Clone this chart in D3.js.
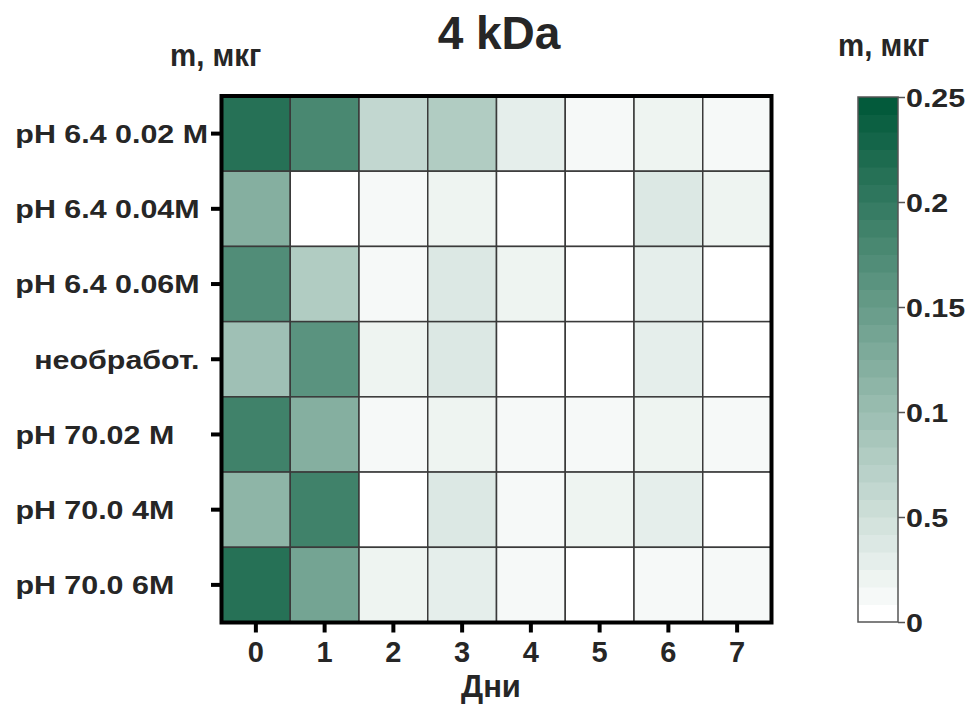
<!DOCTYPE html>
<html>
<head>
<meta charset="utf-8">
<script src="https://cdn.jsdelivr.net/npm/d3@7"></script>
<style>
  body { margin: 0; background: #fff; }
  text { font-family: "Liberation Sans", Arial, sans-serif; font-weight: bold; fill: #262626; }
</style>
</head>
<body>
<svg id="chart" width="972" height="704"></svg>
<script>
// Days on the x axis
const days = [0, 1, 2, 3, 4, 5, 6, 7];

// Row labels (trailing spaces are part of the original labels)
const samples = [
  'pH 6.4 0.02 M',
  'pH 6.4 0.04M\u00a0',
  'pH 6.4 0.06M\u00a0',
  'необработ.\u00a0',
  'pH 70.02 M\u00a0\u00a0\u00a0\u00a0',
  'pH 70.0 4M\u00a0\u00a0\u00a0\u00a0',
  'pH 70.0 6M\u00a0\u00a0\u00a0\u00a0'
];

// m, мкг per row, one value per day
const values = [
  [0.210, 0.180, 0.059, 0.075, 0.026, 0.010, 0.018, 0.010],
  [0.118, 0.000, 0.010, 0.018, 0.000, 0.000, 0.034, 0.018],
  [0.170, 0.075, 0.010, 0.034, 0.018, 0.000, 0.026, 0.000],
  [0.093, 0.165, 0.018, 0.034, 0.000, 0.000, 0.026, 0.000],
  [0.190, 0.118, 0.010, 0.018, 0.010, 0.010, 0.018, 0.010],
  [0.110, 0.190, 0.000, 0.034, 0.010, 0.018, 0.026, 0.000],
  [0.215, 0.140, 0.018, 0.026, 0.010, 0.000, 0.010, 0.010]
];

// Colour bar ticks (label "0.5" is as printed in the source figure)
const legendTicks  = [0, 0.05, 0.1, 0.15, 0.2, 0.25];
const legendLabels = ['0', '0.5', '0.1', '0.15', '0.2', '0.25'];

const VMAX    = 0.25;
const STEPS   = 30;     // discrete colour steps in the bar
const STRETCH = 1.17;   // wide tick lettering

const PLOT = { left: 221.5, right: 771.5, top: 96, bottom: 622.5 };
const BAR  = { left: 858, right: 898, top: 97, bottom: 622 };

const svg = d3.select('#chart');

const colorOf = d3.scaleQuantize()
  .domain([0, VMAX])
  .range(d3.range(STEPS).map(i => d3.interpolateRgb('#ffffff', '#035a3b')(i / (STEPS - 1))));

const x = d3.scaleBand().domain(days).range([PLOT.left, PLOT.right]);
const y = d3.scaleBand().domain(samples).range([PLOT.top, PLOT.bottom]);

// Cells
const cells = [];
samples.forEach((s, r) => days.forEach((d, c) => cells.push({ s, d, v: values[r][c] })));

svg.append('g')
  .selectAll('rect')
  .data(cells)
  .join('rect')
  .attr('x', d => x(d.d))
  .attr('y', d => y(d.s))
  .attr('width', x.bandwidth())
  .attr('height', y.bandwidth())
  .attr('fill', d => colorOf(Math.min(d.v, VMAX - 1e-9)))
  .attr('stroke', '#3a3a3a')
  .attr('stroke-width', 1.5);

// Frame
svg.append('rect')
  .attr('x', PLOT.left).attr('y', PLOT.top)
  .attr('width', PLOT.right - PLOT.left)
  .attr('height', PLOT.bottom - PLOT.top)
  .attr('fill', 'none')
  .attr('stroke', '#000')
  .attr('stroke-width', 4);

// Y axis
const yAxis = svg.append('g')
  .attr('transform', `translate(${PLOT.left - 0.5},0)`)
  .call(d3.axisLeft(y).tickSize(10).tickSizeOuter(0));
yAxis.select('.domain').remove();
yAxis.selectAll('.tick line').attr('stroke', '#000').attr('stroke-width', 4);
yAxis.selectAll('.tick text')
  .style('white-space', 'pre')
  .attr('font-size', 26)
  .attr('fill', '#262626')
  .attr('x', -13 / STRETCH)
  .attr('dy', '0.36em')
  .attr('transform', `scale(${STRETCH},1)`);

// X axis
const xAxis = svg.append('g')
  .attr('transform', `translate(0,${PLOT.bottom})`)
  .call(d3.axisBottom(x).tickSize(10).tickPadding(9).tickSizeOuter(0));
xAxis.select('.domain').remove();
xAxis.selectAll('.tick line').attr('stroke', '#000').attr('stroke-width', 4);
xAxis.selectAll('.tick text')
  .attr('font-size', 29)
  .attr('fill', '#262626');

svg.append('text')
  .attr('x', 491).attr('y', 697)
  .attr('text-anchor', 'middle')
  .attr('font-size', 31)
  .text('Дни');

// Title and unit labels
svg.append('text')
  .attr('x', 499).attr('y', 49)
  .attr('text-anchor', 'middle')
  .attr('font-size', 46)
  .text('4 kDa');

svg.append('text')
  .attr('transform', 'translate(170,66) scale(0.95,1)')
  .attr('font-size', 31)
  .text('m, мкг');

svg.append('text')
  .attr('transform', 'translate(838,56) scale(0.95,1)')
  .attr('font-size', 31)
  .text('m, мкг');

// Colour bar
const cy = d3.scaleLinear().domain([0, VMAX]).range([BAR.bottom, BAR.top]);
const step = VMAX / STEPS;

svg.append('g')
  .selectAll('rect')
  .data(d3.range(STEPS))
  .join('rect')
  .attr('x', BAR.left)
  .attr('y', i => cy((i + 1) * step))
  .attr('width', BAR.right - BAR.left)
  .attr('height', i => cy(i * step) - cy((i + 1) * step) + 0.5)
  .attr('fill', i => colorOf(i * step + step / 2));

svg.append('rect')
  .attr('x', BAR.left).attr('y', BAR.top)
  .attr('width', BAR.right - BAR.left)
  .attr('height', BAR.bottom - BAR.top)
  .attr('fill', 'none')
  .attr('stroke', '#555')
  .attr('stroke-width', 1.5);

const barAxis = svg.append('g')
  .attr('transform', `translate(${BAR.right},0)`)
  .call(d3.axisRight(cy).tickValues(legendTicks)
    .tickFormat((d, i) => legendLabels[i])
    .tickSize(7).tickSizeOuter(0));
barAxis.select('.domain').remove();
barAxis.selectAll('.tick line').attr('stroke', '#555').attr('stroke-width', 1.5);
barAxis.selectAll('.tick text')
  .attr('font-size', 26)
  .attr('fill', '#262626')
  .attr('x', 8 / STRETCH)
  .attr('dy', '0.36em')
  .attr('transform', `scale(${STRETCH},1)`);
</script>
</body>
</html>
